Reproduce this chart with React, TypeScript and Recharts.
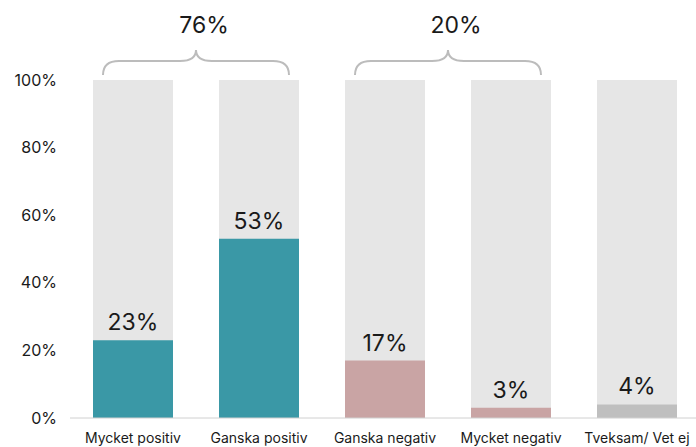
import { Bar, BarChart, Cell, LabelList, ReferenceArea, XAxis, YAxis } from "recharts"

const categories = ["Mycket positiv", "Ganska positiv", "Ganska negativ", "Mycket negativ", "Tveksam/ Vet ej"]
const values = [23, 53, 17, 3, 4]
const yTicks = [0, 20, 40, 60, 80, 100]

const groupStart = ["Mycket positiv", "Ganska negativ"]
const groupEnd = ["Ganska positiv", "Mycket negativ"]
const groupTotals = [76, 20]

const barColors = ["#3a98a6", "#3a98a6", "#c9a4a4", "#c9a4a4", "#bfbfbf"]
const textColor = "#1a1a1a"

const data = categories.map((name, i) => ({ name, value: values[i] }))

function Brace(props: any) {
  const { x, y, width, total } = props
  const inset = 33
  const x1 = x + inset
  const x2 = x + width - inset
  const mid = (x1 + x2) / 2
  const yEnd = y - 5
  const yMid = y - 19
  const yTip = y - 30
  const r = 16
  const d = [
    `M ${x1} ${yEnd}`,
    `Q ${x1} ${yMid} ${x1 + r} ${yMid}`,
    `L ${mid - r} ${yMid}`,
    `Q ${mid} ${yMid} ${mid} ${yTip}`,
    `Q ${mid} ${yMid} ${mid + r} ${yMid}`,
    `L ${x2 - r} ${yMid}`,
    `Q ${x2} ${yMid} ${x2} ${yEnd}`,
  ].join(" ")
  return (
    <g>
      <path d={d} fill="none" stroke="#bcbcbc" strokeWidth={2} />
      <text x={mid + 8} y={y - 47} textAnchor="middle" fontSize={23} fill={textColor}>
        {`${total}%`}
      </text>
    </g>
  )
}

export default function App() {
  return (
    <div
      style={{
        position: "absolute",
        left: 0,
        top: 0,
        width: 696,
        height: 447,
        overflow: "hidden",
        background: "#ffffff",
        fontFamily: "Inter, 'Noto Sans', sans-serif",
      }}
    >
      <BarChart width={700} height={447} data={data} margin={{ top: 80, right: 0, bottom: 0, left: 0 }}>
        <XAxis
          dataKey="name"
          height={29}
          tickLine={false}
          tickSize={0}
          tickMargin={15}
          axisLine={{ stroke: "#d0d0d0" }}
          tick={{ fill: textColor, fontSize: 14 }}
          interval={0}
        />
        <YAxis
          width={70}
          domain={[0, 100]}
          ticks={yTicks}
          tickFormatter={(v) => `${v}%`}
          axisLine={false}
          tickLine={false}
          tickSize={0}
          tickMargin={13}
          tick={{ fill: textColor, fontSize: 16 }}
        />
        <Bar dataKey="value" barSize={80} background={{ fill: "#e6e6e6" }} isAnimationActive={false}>
          {data.map((d, i) => (
            <Cell key={d.name} fill={barColors[i]} />
          ))}
          <LabelList
            dataKey="value"
            position="top"
            offset={10}
            formatter={(v: any) => `${v}%`}
            fill={textColor}
            fontSize={23}
          />
        </Bar>
        {groupTotals.map((total, i) => (
          <ReferenceArea
            key={total}
            x1={groupStart[i]}
            x2={groupEnd[i]}
            y1={0}
            y2={100}
            ifOverflow="visible"
            shape={(p: any) => <Brace {...p} total={total} />}
          />
        ))}
      </BarChart>
    </div>
  )
}
